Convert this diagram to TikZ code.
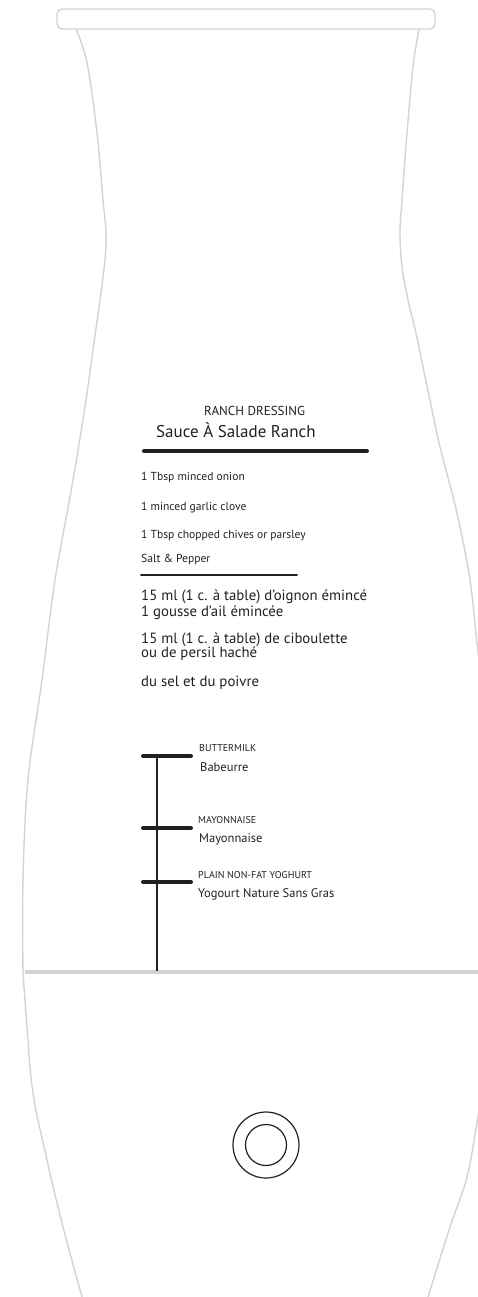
\documentclass[tikz,border=0pt]{standalone}
\usepackage{fontspec}
\setmainfont{PT Sans}
\definecolor{outl}{HTML}{D1D3D4}
\definecolor{ink}{HTML}{231F20}
\begin{document}
\begin{tikzpicture}[x=1pt,y=-1pt,
  outline/.style={draw=outl,line width=1.4pt},
  txt/.style={anchor=base west,inner sep=0pt,text=ink},
  rule/.style={draw=ink,line cap=round},
  fa/.style={font=\fontsize{#1}{#1}\selectfont}]
\useasboundingbox (0,0) rectangle (478,1297);
\clip (0,0) rectangle (478,1297);
% rim
\draw[outline,rounded corners=5pt] (57,9) rectangle (435,29);
% upper body
\draw[outline] plot[smooth,tension=0.6] coordinates {(76,29) (87,63) (97,133) (103,200) (106,233) (105,260) (100,300) (93,350) (86,400) (73,480) (55,580) (42,680) (28,780) (23,880) (23,972)};
\draw[outline] plot[smooth,tension=0.6] coordinates {(419,29) (413,67) (407,133) (402,200) (400,233) (402,267) (408,300) (416,333) (423,367) (430,400) (440,447) (457,513) (470,580) (477,643) (486,720)};
% separation line
\draw[outl,line width=4pt] (25,972) -- (480,972);
% lower body
\draw[outline] plot[smooth,tension=0.6] coordinates {(23,972) (27,1027) (33,1093) (47,1160) (63,1227) (82,1297) (86,1310)};
\draw[outline] plot[smooth,tension=0.6] coordinates {(492,1040) (478,1117) (467,1177) (450,1227) (428,1297) (424,1310)};
% button
\draw[ink,line width=1.2pt] (266,1145) circle[radius=33pt];
\draw[ink,line width=1.2pt] (266,1145) circle[radius=20.5pt];
% title
\node[txt,fa=13] (t1) at (204,415) {RANCH DRESSING};
\node[txt,fa=17] (t2) at (156,437) {Sauce À Salade Ranch};
\draw[rule,line width=4pt] (144,451) -- (367,451);
% english
\node[txt,fa=11.6] (e1) at (141,480) {1 Tbsp minced onion};
\node[txt,fa=11.6] (e2) at (141,510) {1 minced garlic clove};
\node[txt,fa=11.6] (e3) at (141,538) {1 Tbsp chopped chives or parsley};
\node[txt,fa=11.6] (e4) at (141,562) {Salt \& Pepper};
\draw[rule,line width=2pt] (141,575) -- (297,575);
% french
\node[txt,fa=14.8] (f1) at (141,600) {15 ml (1 c. à table) d’oignon émincé};
\node[txt,fa=14.8] (f2) at (141,616) {1 gousse d’ail émincée};
\node[txt,fa=14.8] (f3) at (141,643) {15 ml (1 c. à table) de ciboulette};
\node[txt,fa=14.8] (f4) at (141,657) {ou de persil haché};
\node[txt,fa=14.8] (f5) at (141,686) {du sel et du poivre};
% scale
\draw[ink,line width=1.8pt] (157,756) -- (157,971);
\draw[rule,line width=4pt] (143,756) -- (191,756);
\draw[rule,line width=4pt] (143,828) -- (191,828);
\draw[rule,line width=4pt] (143,882) -- (191,882);
\node[txt,fa=10] (b1) at (199,751) {BUTTERMILK};
\node[txt,fa=12.5] (b2) at (200,771) {Babeurre};
\node[txt,fa=10] (m1) at (198,823) {MAYONNAISE};
\node[txt,fa=12.5] (m2) at (199,842) {Mayonnaise};
\node[txt,fa=10] (y1) at (198,878) {PLAIN NON-FAT YOGHURT};
\node[txt,fa=12.5] (y2) at (198,897) {Yogourt Nature Sans Gras};
\end{tikzpicture}
\end{document}
